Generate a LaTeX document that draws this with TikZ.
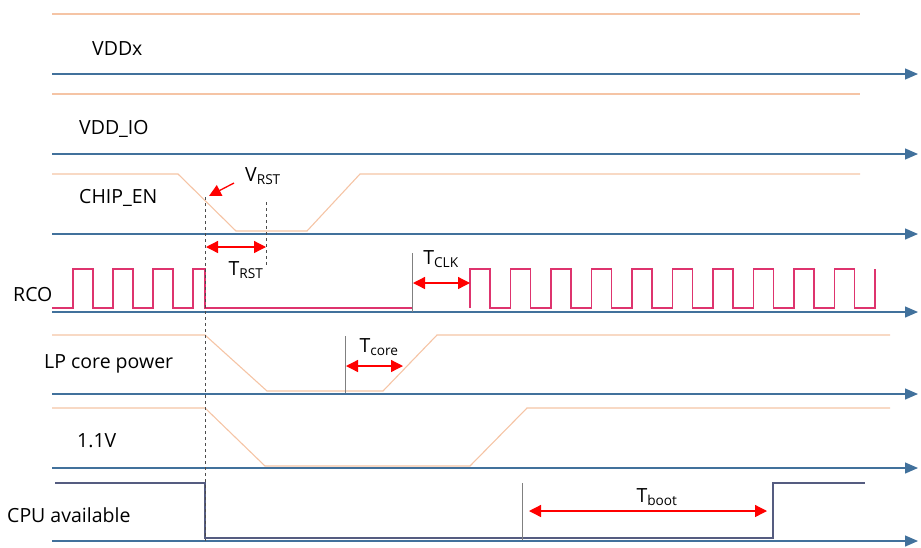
\documentclass[tikz,border=0pt]{standalone}
\usepackage{fontspec}
\setmainfont{Open Sans}
\usetikzlibrary{arrows.meta,positioning}
\definecolor{axisblue}{RGB}{65,113,156}
\definecolor{railorange}{RGB}{245,196,165}
\definecolor{clkpink}{RGB}{222,52,110}
\definecolor{cpuslate}{RGB}{85,92,128}

\begin{document}
\begin{tikzpicture}[
    x=1pt, y=-1pt,
    font=\fontsize{19.5}{22}\selectfont,
    axis/.style={draw=axisblue, line width=1.3pt, -{Triangle[length=13pt, width=11pt]}},
    rail/.style={draw=railorange, line width=1.1pt},
    clk/.style={draw=clkpink, line width=1.2pt},
    cpu/.style={draw=cpuslate, line width=1.2pt},
    guide/.style={draw=gray!60!black, dashed, line width=0.9pt},
    edgeline/.style={draw=gray, line width=1pt},
    span/.style={draw=red, line width=1.3pt, {Triangle[length=12pt, width=12pt]}-{Triangle[length=12pt, width=12pt]}},
    sig/.style={anchor=west, inner sep=0pt},
    tag/.style={inner sep=0pt}
]
\useasboundingbox (0,0) rectangle (921,547);

% time axes
\foreach \y in {74,154,234,312,394,468,541}
    \draw[axis] (52,\y) -- (918,\y);

% signal names
\node[sig] (vddx) at (92,49) {VDDx};
\node[sig] (vddio) at (79,129) {VDD\_IO};
\node[sig] (chipen) at (79,198) {CHIP\_EN};
\node[sig] (rco) at (13,295) {RCO};
\node[sig] (lpcore) at (44,364) {LP core power};
\node[sig] (v11) at (77,441) {1.1V};
\node[sig] (cpuav) at (7,515) {CPU available};

% supply levels
\draw[rail] (52,14) -- (860,14);
\draw[rail] (52,94) -- (860,94);
\draw[rail] (52,174) -- (178,174) -- (236,231) -- (307,231) -- (360,174) -- (860,174);
\draw[rail] (52,335) -- (205,335) -- (267,391) -- (383,391) -- (437,335) -- (890,335);
\draw[rail] (52,408) -- (205,408) -- (265,466) -- (470,466) -- (527,408) -- (890,408);

% RCO clock
\draw[clk] (52,308) foreach \r in {73,113,153} {
    -- (\r,308) -- (\r,269) -- ({\r+20},269) -- ({\r+20},308)}
    -- (193,308) -- (193,269) -- (205,269) -- (205,308) -- (412,308);
\draw[clk] (470,308) foreach \k in {0,...,9} {
    -- ({470+40.5*\k},308) -- ({470+40.5*\k},269)
    -- ({490+40.5*\k},269) -- ({490+40.5*\k},308)}
    -- (875,308) -- (875,269);

% CPU state
\draw[cpu] (55,483) -- (205,483) -- (205,538) -- (773,538) -- (773,483) -- (865,483);

% reference lines
\coordinate (rstA) at (205,197);
\coordinate (rstB) at (205,541);
\coordinate (rstC) at (266,202);
\coordinate (rstD) at (266,265);
\draw[guide] (rstA) -- (rstB);
\draw[guide] (rstC) -- (rstD);
\coordinate (clkA) at (412,253);
\coordinate (clkB) at (412,312);
\coordinate (coreA) at (345,336);
\coordinate (coreB) at (345,393);
\coordinate (bootA) at (522,483);
\coordinate (bootB) at (522,540);
\draw[edgeline] (clkA) -- (clkB);
\draw[edgeline] (coreA) -- (coreB);
\draw[edgeline] (bootA) -- (bootB);

% timing spans
\coordinate (trstL) at (206,247);
\coordinate (trstR) at (266,247);
\coordinate (tclkL) at (413,283);
\coordinate (tclkR) at (470,283);
\coordinate (tcoreL) at (346,366);
\coordinate (tcoreR) at (403,366);
\coordinate (tbootL) at (529,511);
\coordinate (tbootR) at (767,511);
\draw[span] (trstL) -- (trstR);
\draw[span] (tclkL) -- (tclkR);
\draw[span] (tcoreL) -- (tcoreR);
\draw[span] (tbootL) -- (tbootR);

\node[tag] (vrst) at (263,176) {V\textsubscript{RST}};
\coordinate (vrstTail) at (234,183);
\coordinate (vrstTip) at (209,196);
\draw[draw=red, line width=1.3pt, -{Triangle[length=12pt, width=12pt]}] (vrstTail) -- (vrstTip);

\node[tag] (trst) at (246,270) {T\textsubscript{RST}};
\node[tag] (tclk) at (441,259) {T\textsubscript{CLK}};
\node[tag] (tcore) at (379,347) {T\textsubscript{core}};
\node[tag] (tboot) at (657,497) {T\textsubscript{boot}};

\end{tikzpicture}
\end{document}
